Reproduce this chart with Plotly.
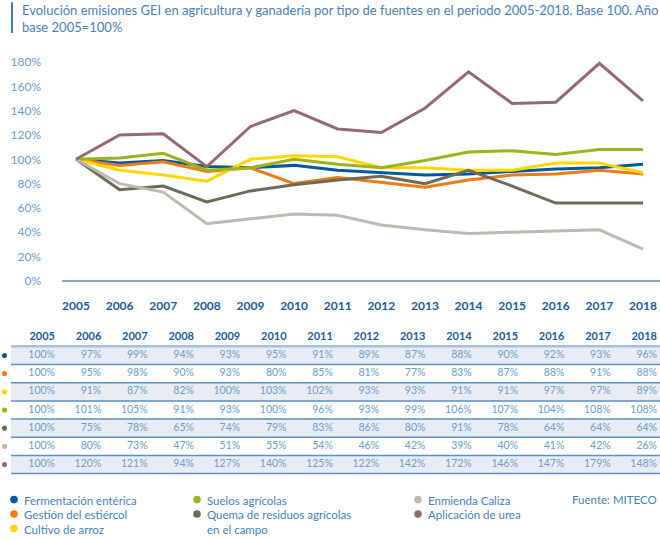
import plotly.graph_objects as go

W, H = 660, 540

years = list(range(2005, 2019))
series_names = [
    "Fermentación entérica",
    "Gestión del estiércol",
    "Cultivo de arroz",
    "Suelos agrícolas",
    "Quema de residuos agrícolas<br>en el campo",
    "Enmienda Caliza",
    "Aplicación de urea",
]
fermentacion = [100, 97, 99, 94, 93, 95, 91, 89, 87, 88, 90, 92, 93, 96]
gestion = [100, 95, 98, 90, 93, 80, 85, 81, 77, 83, 87, 88, 91, 88]
arroz = [100, 91, 87, 82, 100, 103, 102, 93, 93, 91, 91, 97, 97, 89]
suelos = [100, 101, 105, 91, 93, 100, 96, 93, 99, 106, 107, 104, 108, 108]
quema = [100, 75, 78, 65, 74, 79, 83, 86, 80, 91, 78, 64, 64, 64]
enmienda = [100, 80, 73, 47, 51, 55, 54, 46, 42, 39, 40, 41, 42, 26]
urea = [100, 120, 121, 94, 127, 140, 125, 122, 142, 172, 146, 147, 179, 148]
series_values = [fermentacion, gestion, arroz, suelos, quema, enmienda, urea]
colors = ["#005a9c", "#f07a14", "#ffd700", "#9db31c", "#6f6a58", "#bfb8ae", "#926b70"]
y_ticks = list(range(0, 181, 20))
y_ticktext = [f"{v}%" for v in y_ticks]

FONT = "Lato"
TITLE_C = "#4a80b6"
TICK_C = "#6c9cca"
DARK_C = "#1d5a97"
LINE_C = "#5b8ec4"

# empirical vertical correction of the rendered page
VA, VB = 0.85, 0.9863


def spec_y(p):
    return (p - VA) / VB


def px_x(p):
    return p / W


def px_y(p):
    return 1 - spec_y(p) / H


fig = go.Figure()

# ---- main line chart ----
for name, vals, c in zip(series_names, series_values, colors):
    fig.add_trace(go.Scatter(
        x=years, y=vals, mode="lines", name=name.replace("<br>", " "),
        line=dict(color=c, width=3), xaxis="x", yaxis="y", showlegend=False,
        hoverinfo="skip",
    ))

x_left_px, x_right_px = 62, 660
x2005_px, x2018_px = 76, 643
step = (x2018_px - x2005_px) / 13
xr0 = 2005 - (x2005_px - x_left_px) / step
xr1 = 2018 + (x_right_px - x2018_px) / step
y0_px, y180_px, ytop_px = 281, 62, 55
ppu = (spec_y(y0_px) - spec_y(y180_px)) / 180
yr1 = 180 + (spec_y(y180_px) - spec_y(ytop_px)) / ppu

# ---- table ----
t_step = (657 - 55) / 13
t_xr0 = 2005 - 55 / t_step
t_xr1 = 2005 + (660 - 55) / t_step
row0_px, row_h = spec_y(355.7), 18.2 / VB
t_top_px, t_bot_px = spec_y(320), spec_y(480)
t_yr_top = (t_top_px - row0_px) / row_h
t_yr_bot = (t_bot_px - row0_px) / row_h

shapes = []
for i in range(len(series_values)):
    if i % 2 == 0:
        shapes.append(dict(type="rect", xref="paper", yref="y2",
                           x0=px_x(11), x1=1, y0=i - 0.5, y1=i + 0.5,
                           fillcolor="#e8ecf4", line=dict(width=0), layer="below"))
for i in range(len(series_values)):
    shapes.append(dict(type="line", xref="paper", yref="y2",
                       x0=px_x(11), x1=1, y0=i + 0.5, y1=i + 0.5,
                       line=dict(color=LINE_C, width=1.5)))
shapes.append(dict(type="line", xref="paper", yref="y2",
                   x0=px_x(11), x1=1, y0=-0.5, y1=-0.5,
                   line=dict(color="#a3bfdc", width=2.5)))
for i, c in enumerate(colors):
    shapes.append(dict(type="circle", xref="paper", yref="y2",
                       x0=px_x(2), x1=px_x(7), y0=i - 0.14, y1=i + 0.14,
                       fillcolor=c, line=dict(width=0)))

fig.add_trace(go.Scatter(
    x=years, y=[-1] * len(years), mode="text",
    text=[f"<b>{y}</b>" for y in years], textposition="middle left",
    textfont=dict(family=FONT, size=11, color=DARK_C),
    xaxis="x2", yaxis="y2", showlegend=False, hoverinfo="skip",
))
for i, vals in enumerate(series_values):
    fig.add_trace(go.Scatter(
        x=years, y=[i] * len(years), mode="text",
        text=[f"{v}%" for v in vals], textposition="middle left",
        textfont=dict(family=FONT, size=10.5, color=TICK_C),
        xaxis="x2", yaxis="y2", showlegend=False, hoverinfo="skip",
    ))

# title bar
shapes.append(dict(type="rect", xref="paper", yref="paper",
                   x0=px_x(11), x1=px_x(13), y0=px_y(33), y1=px_y(2),
                   fillcolor="#3f7bb8", line=dict(width=0)))

annotations = [
    dict(x=px_x(20), y=px_y(0), xref="paper", yref="paper", xanchor="left", yanchor="top",
         align="left", showarrow=False,
         text="Evolución emisiones GEI en agricultura y ganadería por tipo de fuentes en el periodo 2005-2018. Base 100. Año<br>base 2005=100%",
         font=dict(family=FONT, size=13, color=TITLE_C)),
    dict(x=px_x(659), y=px_y(500), xref="paper", yref="paper", xanchor="right", yanchor="middle",
         showarrow=False, text="Fuente: MITECO",
         font=dict(family=FONT, size=11.5, color=TITLE_C)),
]

leg_pos = [(14, 500), (14, 514.5), (14, 529), (197, 500), (197, 514.5), (418, 500), (418, 514.5)]
for (lx, ly), name, c in zip(leg_pos, series_names, colors):
    shapes.append(dict(type="circle", xref="paper", yref="paper",
                       x0=px_x(lx - 3.8), x1=px_x(lx + 3.8), y0=px_y(ly + 3.8), y1=px_y(ly - 3.8),
                       fillcolor=c, line=dict(width=0)))
    annotations.append(dict(x=px_x(lx + 8), y=px_y(ly - 8), xref="paper", yref="paper",
                            xanchor="left", yanchor="top", align="left", showarrow=False,
                            text=name, font=dict(family=FONT, size=11.5, color=TITLE_C)))

fig.update_layout(
    width=W, height=H,
    margin=dict(l=0, r=0, t=0, b=0),
    paper_bgcolor="white", plot_bgcolor="rgba(0,0,0,0)",
    showlegend=False,
    font=dict(family=FONT),
    xaxis=dict(domain=[px_x(x_left_px), 1], range=[xr0, xr1], tickvals=years,
               ticktext=[str(y) for y in years], showgrid=False, zeroline=False,
               showline=False, ticks="", ticklabelstandoff=16,
               tickfont=dict(family=FONT, size=12, color=DARK_C, weight="bold"),
               anchor="y", fixedrange=True),
    yaxis=dict(domain=[px_y(y0_px), px_y(ytop_px)], range=[0, yr1], tickvals=y_ticks,
               ticktext=y_ticktext, showgrid=False, zeroline=True, zerolinecolor="#7aa7d3",
               zerolinewidth=1.5, showline=False, ticks="", ticklabelstandoff=20,
               tickfont=dict(family=FONT, size=12, color=TICK_C),
               anchor="x", fixedrange=True),
    xaxis2=dict(domain=[0, 1], range=[t_xr0, t_xr1], visible=False, anchor="y2", fixedrange=True),
    yaxis2=dict(domain=[px_y(t_bot_px * VB + VA), px_y(t_top_px * VB + VA)],
                range=[t_yr_bot, t_yr_top], visible=False, anchor="x2", fixedrange=True),
    shapes=shapes,
    annotations=annotations,
)

fig.write_html("out.html")
